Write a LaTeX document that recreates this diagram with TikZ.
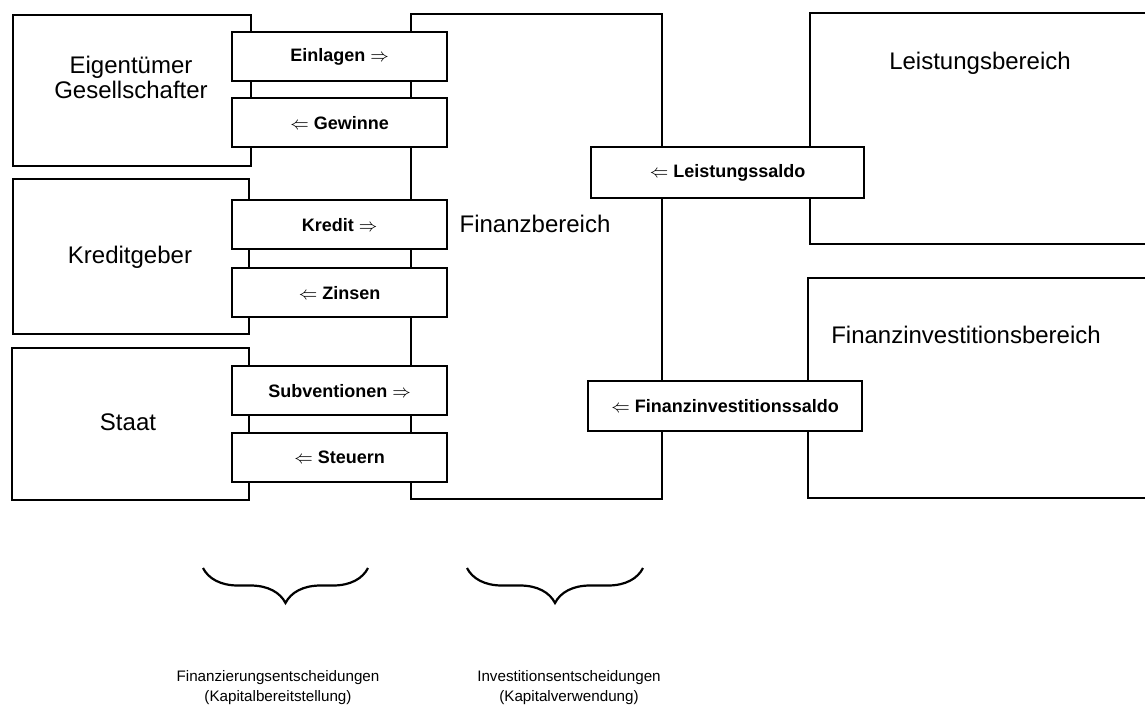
\documentclass[tikz,border=0pt]{standalone}
\usepackage{fontspec}
\setmainfont{Liberation Sans}
\usetikzlibrary{decorations.pathreplacing}

\begin{document}
\begin{tikzpicture}[x=0.5pt,y=-0.5pt,
  bereich/.style={draw,line width=1.1pt,fill=white,anchor=north west,inner sep=0pt},
  strom/.style={draw,line width=1.1pt,fill=white,anchor=north west,inner sep=0pt,minimum width=107.5pt,minimum height=24.5pt,font=\bfseries\fontsize{9}{10}\selectfont},
  titel/.style={align=center,font=\fontsize{12}{12.5}\selectfont},
  fuss/.style={align=center,font=\fontsize{7.6}{10}\selectfont},
  klammer/.style={line width=1.1pt,decorate,decoration={brace,amplitude=17.5pt}}]
  \useasboundingbox (0,0) rectangle (1145,709);
  % Bereiche
  \node[bereich,minimum width=119pt,minimum height=75.5pt] (eigner) at (12,14) {};
  \node[bereich,minimum width=118pt,minimum height=77.5pt] (kreditgeber) at (12,178) {};
  \node[bereich,minimum width=118.5pt,minimum height=76pt] (staat) at (11,347) {};
  \node[bereich,minimum width=125.5pt,minimum height=242.5pt] (finanz) at (410,13) {};
  \node[bereich,minimum width=200pt,minimum height=115.5pt] (leistung) at (809,12) {};
  \node[bereich,minimum width=200pt,minimum height=110pt] (finv) at (807,277) {};
  \node[titel] (eignertext) at (131,77) {Eigentümer\\Gesellschafter};
  \node[titel] (kreditgebertext) at (130,257) {Kreditgeber};
  \node[titel] (staattext) at (128,422) {Staat};
  \node[titel] (finanztext) at (535,224) {Finanzbereich};
  \node[titel] (leistungtext) at (980,63) {Leistungsbereich};
  \node[titel] (finvtext) at (966,335) {Finanzinvestitionsbereich};
  % Stroeme
  \node[strom] (einlagen) at (231,31) {Einlagen $\Rightarrow$};
  \node[strom] (gewinne) at (231,97) {$\Leftarrow$ Gewinne};
  \node[strom] (kredit) at (231,199) {Kredit $\Rightarrow$};
  \node[strom] (zinsen) at (231,267) {$\Leftarrow$ Zinsen};
  \node[strom] (subventionen) at (231,365) {Subventionen $\Rightarrow$};
  \node[strom] (steuern) at (231,432) {$\Leftarrow$ Steuern};
  \node[strom,minimum width=136.5pt,minimum height=25.5pt] (lsaldo) at (590,146) {$\Leftarrow$ Leistungssaldo};
  \node[strom,minimum width=137pt,minimum height=25pt] (fsaldo) at (587,380) {$\Leftarrow$ Finanzinvestitionssaldo};
  % Klammern
  \coordinate (kl1a) at (203,568);
  \coordinate (kl1b) at (368,568);
  \coordinate (kl2a) at (467,568);
  \coordinate (kl2b) at (643,568);
  \draw[klammer] (kl1b) -- (kl1a);
  \draw[klammer] (kl2b) -- (kl2a);
  \node[fuss] (finanzierung) at (278,688) {Finanzierungsentscheidungen\\(Kapitalbereitstellung)};
  \node[fuss] (investition) at (569,688) {Investitionsentscheidungen\\(Kapitalverwendung)};
\end{tikzpicture}
\end{document}
